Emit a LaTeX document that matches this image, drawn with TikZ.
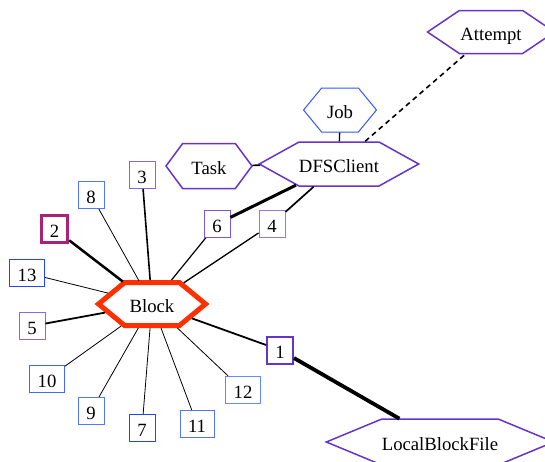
\documentclass[tikz,border=0pt]{standalone}
\usepackage{fontspec}
\setmainfont{Liberation Serif}
\usetikzlibrary{shapes.symbols}
\definecolor{hred}{RGB}{255,48,0}
\definecolor{hpurple}{RGB}{102,51,204}
\definecolor{hblue}{RGB}{51,85,255}
\definecolor{cmag}{RGB}{170,34,119}
\definecolor{cA}{RGB}{136,102,221}
\definecolor{cB}{RGB}{85,119,255}
\definecolor{cC}{RGB}{34,68,255}
\definecolor{cD}{RGB}{136,102,238}
\definecolor{cE}{RGB}{119,85,221}
\definecolor{cF}{RGB}{153,119,221}
\definecolor{cG}{RGB}{68,102,255}
\definecolor{cH}{RGB}{85,119,238}
\definecolor{cI}{RGB}{102,136,255}
\newcommand{\myfs}{\fontsize{18.7pt}{22pt}\selectfont}
\tikzset{
  hexa/.style={signal, signal to=east and west, draw, inner sep=0pt, font=\myfs, text height=18pt, text depth=2pt},
  numbox/.style={draw, rectangle, minimum width=26pt, minimum height=27pt, inner xsep=8pt, inner ysep=0pt, font=\myfs, line width=1pt, text height=18pt, text depth=2pt},
  thinedge/.style={line width=0.8pt},
}
\begin{document}
\begin{tikzpicture}[x=1pt,y=-1pt]
\useasboundingbox (0,0) rectangle (545,461);
% hexagons
\node[hexa, draw=hred, line width=5pt, minimum width=107pt, minimum height=43pt, signal pointer angle=79] (block) at (152,304) {Block};
\node[hexa, draw=hpurple, line width=1.5pt, minimum width=158pt, minimum height=44pt, signal pointer angle=58] (dfs) at (339,164) {DFSClient};
\node[hexa, draw=hpurple, line width=1.5pt, minimum width=86pt, minimum height=45pt, signal pointer angle=107] (task) at (209,166) {Task};
\node[hexa, draw=hblue, line width=1pt, minimum width=73pt, minimum height=44pt, signal pointer angle=101] (job) at (340,110) {Job};
\node[hexa, draw=hpurple, line width=1.5pt, minimum width=127pt, minimum height=43pt, signal pointer angle=68] (attempt) at (491,32) {Attempt};
\node[hexa, draw=hpurple, line width=1.5pt, minimum width=220pt, minimum height=46pt, signal pointer angle=45] (lbf) at (440,442) {LocalBlockFile};
% boxes
\node[numbox, draw=hpurple, line width=2pt] (n1) at (280,350) {1};
\node[numbox, draw=cmag, line width=3.5pt] (n2) at (54.5,229) {2};
\node[numbox, draw=cA] (n3) at (142,175) {3};
\node[numbox, draw=cF] (n4) at (272,224) {4};
\node[numbox, draw=cD] (n5) at (32,326) {5};
\node[numbox, draw=cE] (n6) at (217,224) {6};
\node[numbox, draw=cC] (n7) at (142,428) {7};
\node[numbox, draw=cB] (n8) at (91,195) {8};
\node[numbox, draw=cB] (n9) at (91,411) {9};
\node[numbox, draw=cG] (n10) at (47,379) {10};
\node[numbox, draw=cH] (n11) at (197,424) {11};
\node[numbox, draw=cI] (n12) at (243,390) {12};
\node[numbox, draw=cC] (n13) at (27,273) {13};
% edges
\draw[line width=2.5pt] (block) -- (n2);
\draw[thinedge] (block) -- (n8);
\draw[line width=1.6pt] (block) -- (n3);
\draw[thinedge] (block) -- (n13);
\draw[line width=1.8pt] (block) -- (n5);
\draw[line width=1.2pt] (block) -- (n6);
\draw[line width=1.3pt] (block) -- (n4);
\draw[line width=1.8pt] (block) -- (n1);
\draw[thinedge] (block) -- (n10);
\draw[thinedge] (block) -- (n9);
\draw[thinedge] (block) -- (n7);
\draw[thinedge] (block) -- (n11);
\draw[thinedge] (block) -- (n12);
\draw[line width=3pt] (n6) -- (dfs);
\draw[line width=1.7pt] (n4) -- (dfs);
\draw[line width=3.8pt] (n1) -- (lbf);
\draw[line width=1.6pt] (task) -- (dfs);
\draw[line width=1.4pt] (job) -- (dfs);
\draw[line width=1.6pt, dash pattern=on 5pt off 4pt] (dfs) -- (attempt);
\end{tikzpicture}
\end{document}
